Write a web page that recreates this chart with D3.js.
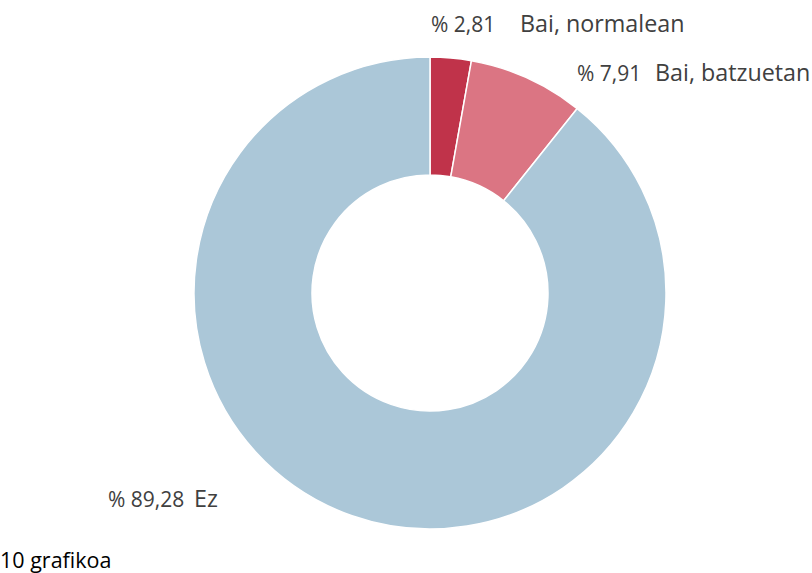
<!DOCTYPE html>
<html>
<head>
<meta charset="utf-8">
<script src="https://cdn.jsdelivr.net/npm/d3@7"></script>
<style>
  body { margin: 0; background: #fff; }
  svg { display: block; }
</style>
</head>
<body>
<div id="chart"></div>
<script>
const categories = ['Bai, normalean', 'Bai, batzuetan', 'Ez'];
const values = [2.81, 7.91, 89.28];
const colours = ['#c0334a', '#db7583', '#abc7d8'];
const caption = '10 grafikoa';

const width = 812;
const height = 573;

const dim = {
  cx: 430,
  cy: 293,
  outerRadius: 236,
  innerRadius: 118,
};

// label placement per slice, offsets from the donut centre
const labelSpots = [
  { dx: 1, dy: -261, labelDx: 89 },
  { dx: 147, dy: -212, labelDx: 78 },
  { dx: -322, dy: 214, labelDx: 86 },
];

const fontFamily = '"Open Sans", "Noto Sans", sans-serif';
const fmt = v => '% ' + d3.format('.2f')(v).replace('.', ',');

const svg = d3.select('#chart').append('svg')
  .attr('width', width)
  .attr('height', height);

const pie = d3.pie().sort(null).value(d => d);
const arc = d3.arc().innerRadius(dim.innerRadius).outerRadius(dim.outerRadius);
const arcs = pie(values);

const g = svg.append('g').attr('transform', `translate(${dim.cx}, ${dim.cy})`);

g.selectAll('path')
  .data(arcs)
  .enter().append('path')
  .attr('d', arc)
  .style('fill', (d, i) => colours[i])
  .style('stroke', '#fff')
  .style('stroke-width', 1.5);

// labels: percent value then category name
const labels = g.selectAll('g.label')
  .data(arcs)
  .enter().append('g')
  .attr('class', 'label')
  .attr('transform', (d, i) => `translate(${labelSpots[i].dx}, ${labelSpots[i].dy})`);

labels.append('text')
  .style('font-family', fontFamily)
  .style('font-size', '21px')
  .style('fill', '#404040')
  .text(d => fmt(d.value));

labels.append('text')
  .attr('x', (d, i) => labelSpots[i].labelDx)
  .style('font-family', fontFamily)
  .style('font-size', '23.3px')
  .style('fill', '#404040')
  .text((d, i) => categories[i]);

svg.append('text')
  .attr('x', 0)
  .attr('y', 568)
  .style('font-family', fontFamily)
  .style('font-size', '21.5px')
  .style('fill', '#000')
  .text(caption);
</script>
</body>
</html>
